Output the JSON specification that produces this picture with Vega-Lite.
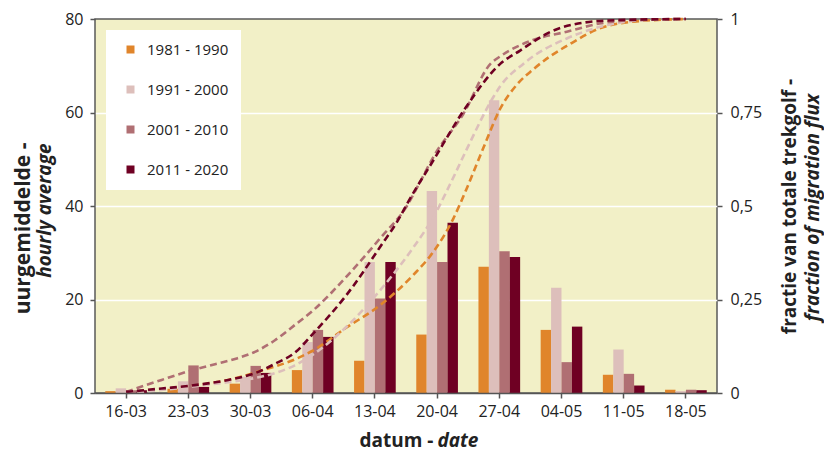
{
  "$schema": "https://vega.github.io/schema/vega-lite/v6.json",
  "width": 622,
  "height": 374,
  "autosize": {"type": "none"},
  "padding": {"left": 95, "top": 19, "right": 107, "bottom": 61},
  "background": "white",
  "config": {
    "view": {"fill": "#f2f0c7", "stroke": "#5a5a5a", "strokeWidth": 1.5},
    "font": "Open Sans",
    "axis": {
      "labelFont": "Open Sans",
      "titleFont": "Open Sans",
      "labelFontSize": 16,
      "labelColor": "#222222",
      "titleColor": "#222222",
      "titleFontSize": 19,
      "titleFontWeight": "bold",
      "tickColor": "#555555",
      "tickWidth": 1.5,
      "tickSize": 5,
      "domain": false,
      "grid": false
    }
  },
  "datasets": {
    "bars": [
      {"week": "16-03", "period": "1981 - 1990", "v": 0.4},
      {"week": "16-03", "period": "1991 - 2000", "v": 1.0},
      {"week": "16-03", "period": "2001 - 2010", "v": 0.6},
      {"week": "16-03", "period": "2011 - 2020", "v": 0.6},
      {"week": "23-03", "period": "1981 - 1990", "v": 0.9},
      {"week": "23-03", "period": "1991 - 2000", "v": 2.5},
      {"week": "23-03", "period": "2001 - 2010", "v": 5.9},
      {"week": "23-03", "period": "2011 - 2020", "v": 1.3},
      {"week": "30-03", "period": "1981 - 1990", "v": 2.0},
      {"week": "30-03", "period": "1991 - 2000", "v": 3.5},
      {"week": "30-03", "period": "2001 - 2010", "v": 5.8},
      {"week": "30-03", "period": "2011 - 2020", "v": 4.3},
      {"week": "06-04", "period": "1981 - 1990", "v": 4.9},
      {"week": "06-04", "period": "1991 - 2000", "v": 10.9},
      {"week": "06-04", "period": "2001 - 2010", "v": 13.5},
      {"week": "06-04", "period": "2011 - 2020", "v": 12.0},
      {"week": "13-04", "period": "1981 - 1990", "v": 6.9},
      {"week": "13-04", "period": "1991 - 2000", "v": 28.0},
      {"week": "13-04", "period": "2001 - 2010", "v": 20.2},
      {"week": "13-04", "period": "2011 - 2020", "v": 28.0},
      {"week": "20-04", "period": "1981 - 1990", "v": 12.5},
      {"week": "20-04", "period": "1991 - 2000", "v": 43.2},
      {"week": "20-04", "period": "2001 - 2010", "v": 28.0},
      {"week": "20-04", "period": "2011 - 2020", "v": 36.4},
      {"week": "27-04", "period": "1981 - 1990", "v": 27.0},
      {"week": "27-04", "period": "1991 - 2000", "v": 62.6},
      {"week": "27-04", "period": "2001 - 2010", "v": 30.3},
      {"week": "27-04", "period": "2011 - 2020", "v": 29.1},
      {"week": "04-05", "period": "1981 - 1990", "v": 13.5},
      {"week": "04-05", "period": "1991 - 2000", "v": 22.5},
      {"week": "04-05", "period": "2001 - 2010", "v": 6.6},
      {"week": "04-05", "period": "2011 - 2020", "v": 14.2},
      {"week": "11-05", "period": "1981 - 1990", "v": 3.9},
      {"week": "11-05", "period": "1991 - 2000", "v": 9.3},
      {"week": "11-05", "period": "2001 - 2010", "v": 4.1},
      {"week": "11-05", "period": "2011 - 2020", "v": 1.6},
      {"week": "18-05", "period": "1981 - 1990", "v": 0.7},
      {"week": "18-05", "period": "1991 - 2000", "v": 0.4},
      {"week": "18-05", "period": "2001 - 2010", "v": 0.7},
      {"week": "18-05", "period": "2011 - 2020", "v": 0.6}
    ],
    "curves": [
      {"period": "1981 - 1990", "day": 0, "frac": 0},
      {"period": "1981 - 1990", "day": 4, "frac": 0.01},
      {"period": "1981 - 1990", "day": 7.75, "frac": 0.02},
      {"period": "1981 - 1990", "day": 11.5, "frac": 0.035},
      {"period": "1981 - 1990", "day": 15.25, "frac": 0.06},
      {"period": "1981 - 1990", "day": 19, "frac": 0.09},
      {"period": "1981 - 1990", "day": 21, "frac": 0.113},
      {"period": "1981 - 1990", "day": 24.8, "frac": 0.175},
      {"period": "1981 - 1990", "day": 28.6, "frac": 0.235},
      {"period": "1981 - 1990", "day": 32.3, "frac": 0.315},
      {"period": "1981 - 1990", "day": 34.5, "frac": 0.375},
      {"period": "1981 - 1990", "day": 36.8, "frac": 0.465},
      {"period": "1981 - 1990", "day": 38.3, "frac": 0.545},
      {"period": "1981 - 1990", "day": 40.2, "frac": 0.655},
      {"period": "1981 - 1990", "day": 42.1, "frac": 0.76},
      {"period": "1981 - 1990", "day": 44, "frac": 0.825},
      {"period": "1981 - 1990", "day": 45.8, "frac": 0.865},
      {"period": "1981 - 1990", "day": 47.7, "frac": 0.9},
      {"period": "1981 - 1990", "day": 49.6, "frac": 0.928},
      {"period": "1981 - 1990", "day": 53.3, "frac": 0.975},
      {"period": "1981 - 1990", "day": 57.1, "frac": 0.993},
      {"period": "1981 - 1990", "day": 63, "frac": 1.0},
      {"period": "1991 - 2000", "day": 0, "frac": 0},
      {"period": "1991 - 2000", "day": 4, "frac": 0.008},
      {"period": "1991 - 2000", "day": 7.75, "frac": 0.018},
      {"period": "1991 - 2000", "day": 11.5, "frac": 0.029},
      {"period": "1991 - 2000", "day": 14.5, "frac": 0.04},
      {"period": "1991 - 2000", "day": 17, "frac": 0.055},
      {"period": "1991 - 2000", "day": 19, "frac": 0.074},
      {"period": "1991 - 2000", "day": 21.1, "frac": 0.104},
      {"period": "1991 - 2000", "day": 24.8, "frac": 0.177},
      {"period": "1991 - 2000", "day": 28.6, "frac": 0.275},
      {"period": "1991 - 2000", "day": 32.2, "frac": 0.385},
      {"period": "1991 - 2000", "day": 34.6, "frac": 0.471},
      {"period": "1991 - 2000", "day": 36.8, "frac": 0.575},
      {"period": "1991 - 2000", "day": 38.3, "frac": 0.65},
      {"period": "1991 - 2000", "day": 41.3, "frac": 0.79},
      {"period": "1991 - 2000", "day": 42.1, "frac": 0.82},
      {"period": "1991 - 2000", "day": 44.7, "frac": 0.88},
      {"period": "1991 - 2000", "day": 45.8, "frac": 0.9},
      {"period": "1991 - 2000", "day": 49.6, "frac": 0.948},
      {"period": "1991 - 2000", "day": 53.3, "frac": 0.979},
      {"period": "1991 - 2000", "day": 59, "frac": 0.998},
      {"period": "1991 - 2000", "day": 63, "frac": 1.0},
      {"period": "2001 - 2010", "day": 0, "frac": 0.003},
      {"period": "2001 - 2010", "day": 4, "frac": 0.035},
      {"period": "2001 - 2010", "day": 7, "frac": 0.058},
      {"period": "2001 - 2010", "day": 10, "frac": 0.077},
      {"period": "2001 - 2010", "day": 12.25, "frac": 0.091},
      {"period": "2001 - 2010", "day": 14.5, "frac": 0.11},
      {"period": "2001 - 2010", "day": 16.75, "frac": 0.141},
      {"period": "2001 - 2010", "day": 19, "frac": 0.182},
      {"period": "2001 - 2010", "day": 21.1, "frac": 0.222},
      {"period": "2001 - 2010", "day": 24.8, "frac": 0.311},
      {"period": "2001 - 2010", "day": 28.6, "frac": 0.414},
      {"period": "2001 - 2010", "day": 31.6, "frac": 0.5},
      {"period": "2001 - 2010", "day": 33.1, "frac": 0.565},
      {"period": "2001 - 2010", "day": 34.6, "frac": 0.632},
      {"period": "2001 - 2010", "day": 38, "frac": 0.748},
      {"period": "2001 - 2010", "day": 41, "frac": 0.88},
      {"period": "2001 - 2010", "day": 42.1, "frac": 0.9},
      {"period": "2001 - 2010", "day": 45.8, "frac": 0.944},
      {"period": "2001 - 2010", "day": 49.6, "frac": 0.966},
      {"period": "2001 - 2010", "day": 53.3, "frac": 0.988},
      {"period": "2001 - 2010", "day": 57.1, "frac": 0.997},
      {"period": "2001 - 2010", "day": 63, "frac": 1.0},
      {"period": "2011 - 2020", "day": 0, "frac": 0.003},
      {"period": "2011 - 2020", "day": 4, "frac": 0.012},
      {"period": "2011 - 2020", "day": 7.75, "frac": 0.021},
      {"period": "2011 - 2020", "day": 11.5, "frac": 0.035},
      {"period": "2011 - 2020", "day": 14.5, "frac": 0.053},
      {"period": "2011 - 2020", "day": 16.75, "frac": 0.078},
      {"period": "2011 - 2020", "day": 19, "frac": 0.108},
      {"period": "2011 - 2020", "day": 21.1, "frac": 0.16},
      {"period": "2011 - 2020", "day": 24.8, "frac": 0.262},
      {"period": "2011 - 2020", "day": 28.6, "frac": 0.391},
      {"period": "2011 - 2020", "day": 30.8, "frac": 0.47},
      {"period": "2011 - 2020", "day": 31.6, "frac": 0.505},
      {"period": "2011 - 2020", "day": 34.6, "frac": 0.623},
      {"period": "2011 - 2020", "day": 38.3, "frac": 0.766},
      {"period": "2011 - 2020", "day": 42.1, "frac": 0.88},
      {"period": "2011 - 2020", "day": 44.3, "frac": 0.915},
      {"period": "2011 - 2020", "day": 47.7, "frac": 0.965},
      {"period": "2011 - 2020", "day": 51.4, "frac": 0.99},
      {"period": "2011 - 2020", "day": 55.2, "frac": 0.997},
      {"period": "2011 - 2020", "day": 63, "frac": 1.0}
    ]
  },
  "layer": [
    {
      "data": {"name": "bars"},
      "mark": {"type": "bar"},
      "encoding": {
        "x": {
          "field": "week",
          "type": "nominal",
          "sort": ["16-03", "23-03", "30-03", "06-04", "13-04", "20-04", "27-04", "04-05", "11-05", "18-05"],
          "scale": {"paddingInner": 0.33, "paddingOuter": 0.165},
          "axis": {
            "orient": "bottom",
            "labelAngle": 0,
            "labelPadding": 5,
            "domain": true,
            "domainColor": "#555555",
            "domainWidth": 1.5,
            "zindex": 1,
            "title": "datum -",
            "titleX": 338,
            "titleY": 53,
            "titleAlign": "right",
            "titleBaseline": "alphabetic"
          }
        },
        "xOffset": {
          "field": "period",
          "type": "nominal",
          "sort": ["1981 - 1990", "1991 - 2000", "2001 - 2010", "2011 - 2020"],
          "scale": {"paddingInner": 0, "paddingOuter": 0}
        },
        "y": {
          "field": "v",
          "type": "quantitative",
          "scale": {"domain": [0, 80], "nice": false},
          "axis": {
            "orient": "left",
            "values": [0, 20, 40, 60, 80],
            "grid": true,
            "gridColor": "white",
            "gridWidth": 1.5,
            "gridOpacity": {"condition": {"test": "datum.value === 0 || datum.value === 80", "value": 0}, "value": 1},
            "labelPadding": 7,
            "title": "uurgemiddelde -",
            "titleFontSize": 21,
            "titleX": -66,
            "titleY": 123,
            "titleAngle": -90,
            "titleAlign": "right",
            "titleBaseline": "alphabetic"
          }
        },
        "color": {
          "field": "period",
          "type": "nominal",
          "scale": {
            "domain": ["1981 - 1990", "1991 - 2000", "2001 - 2010", "2011 - 2020"],
            "range": ["#e0852b", "#ddbfbb", "#b06f73", "#6f0023"]
          },
          "legend": {
            "orient": "none",
            "legendX": 11,
            "legendY": 11,
            "title": null,
            "fillColor": "white",
            "padding": 12,
            "symbolOffset": 5,
            "symbolType": "square",
            "symbolSize": 64,
            "symbolStrokeWidth": 0,
            "symbolOpacity": 1,
            "labelFont": "Open Sans",
            "labelFontSize": 15,
            "labelColor": "#222222",
            "labelOffset": 9,
            "rowPadding": 24,
            "labelExpr": "datum.label + '   '"
          }
        }
      }
    },
    {
      "data": {"name": "curves"},
      "mark": {"type": "line", "strokeWidth": 2.6, "strokeDash": [7, 4], "interpolate": "monotone"},
      "encoding": {
        "x": {
          "field": "day",
          "type": "quantitative",
          "scale": {"domain": [-3.5, 66.5], "nice": false, "zero": false},
          "axis": {
            "orient": "bottom",
            "labels": false,
            "ticks": false,
            "domain": false,
            "grid": false,
            "title": "date",
            "titleFontStyle": "italic",
            "titleX": 342,
            "titleY": 53,
            "titleAlign": "left",
            "titleBaseline": "alphabetic"
          }
        },
        "y": {
          "field": "frac",
          "type": "quantitative",
          "scale": {"domain": [0, 1], "nice": false},
          "axis": {
            "orient": "right",
            "values": [0, 0.25, 0.5, 0.75, 1],
            "labelExpr": "replace(toString(datum.value), '.', ',')",
            "labelPadding": 8,
            "grid": false,
            "title": "fractie van totale trekgolf -",
            "titleX": 78,
            "titleY": 187,
            "titleAngle": -90,
            "titleAlign": "center",
            "titleBaseline": "alphabetic"
          }
        },
        "color": {"field": "period", "type": "nominal", "legend": null}
      }
    },
    {
      "data": {"name": "bars"},
      "mark": {"type": "point", "opacity": 0},
      "encoding": {
        "y": {
          "datum": 0,
          "type": "quantitative",
          "scale": {"domain": [0, 1]},
          "axis": {
            "orient": "left",
            "labels": false,
            "ticks": false,
            "domain": false,
            "grid": false,
            "title": "hourly average",
            "titleFontStyle": "italic",
            "titleX": -45,
            "titleY": 124,
            "titleAngle": -90,
            "titleAlign": "right",
            "titleBaseline": "alphabetic"
          }
        }
      }
    },
    {
      "data": {"name": "bars"},
      "mark": {"type": "point", "opacity": 0},
      "encoding": {
        "y": {
          "datum": 0,
          "type": "quantitative",
          "scale": {"domain": [0, 1]},
          "axis": {
            "orient": "right",
            "labels": false,
            "ticks": false,
            "domain": false,
            "grid": false,
            "title": "fraction of migration flux",
            "titleFontStyle": "italic",
            "titleX": 101,
            "titleY": 188,
            "titleAngle": -90,
            "titleAlign": "center",
            "titleBaseline": "alphabetic"
          }
        }
      }
    }
  ],
  "resolve": {"scale": {"x": "independent", "y": "independent"}}
}
